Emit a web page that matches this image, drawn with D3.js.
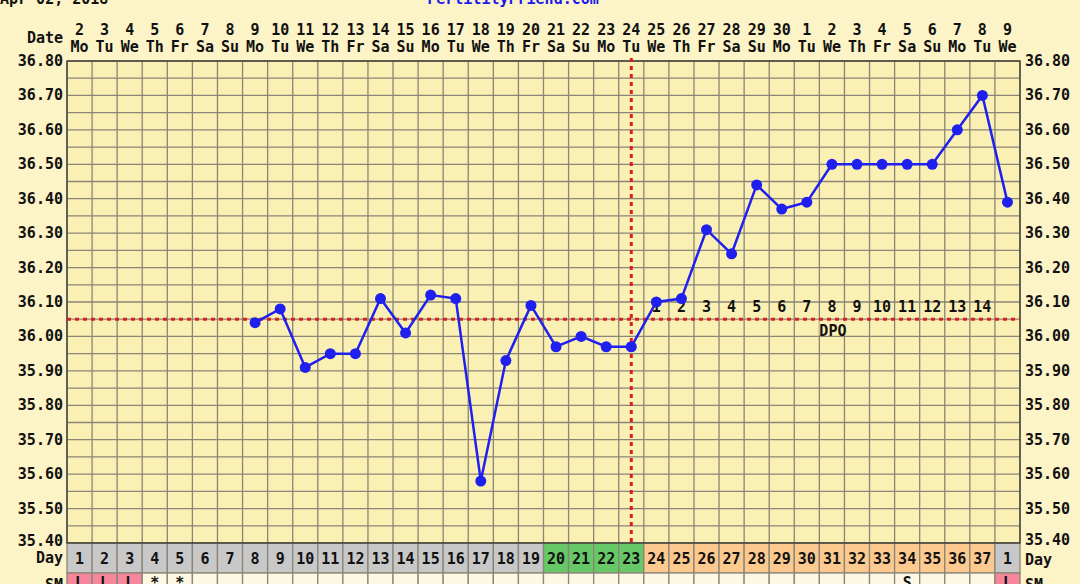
<!DOCTYPE html>
<html><head><meta charset="utf-8">
<script src="https://cdn.jsdelivr.net/npm/d3@7"></script>
<style>
html,body{margin:0;padding:0;background:#fcf3c6;}
svg{display:block;}
text{font-family:"DejaVu Sans Mono",monospace;font-weight:bold;}
</style></head>
<body>
<svg id="c" width="1080" height="584"></svg>
<script>
// ---- data ----
const dateNums = [2,3,4,5,6,7,8,9,10,11,12,13,14,15,16,17,18,19,20,21,22,23,24,25,26,27,28,29,30,1,2,3,4,5,6,7,8,9];
const weekdays = ["Mo","Tu","We","Th","Fr","Sa","Su","Mo","Tu","We","Th","Fr","Sa","Su","Mo","Tu","We","Th","Fr","Sa","Su","Mo","Tu","We","Th","Fr","Sa","Su","Mo","Tu","We","Th","Fr","Sa","Su","Mo","Tu","We"];
const cycleDays = [1,2,3,4,5,6,7,8,9,10,11,12,13,14,15,16,17,18,19,20,21,22,23,24,25,26,27,28,29,30,31,32,33,34,35,36,37,1];
const temps = [null,null,null,null,null,null,null,36.04,36.08,35.91,35.95,35.95,36.11,36.01,36.12,36.11,35.58,35.93,36.09,35.97,36.00,35.97,35.97,36.10,36.11,36.31,36.24,36.44,36.37,36.39,36.50,36.50,36.50,36.50,36.50,36.60,36.70,36.39];
const phases = ["menses","menses","menses","pre","pre","pre","pre","pre","pre","pre","pre","pre","pre","pre","pre","pre","pre","pre","pre","fertile","fertile","fertile","fertile","luteal","luteal","luteal","luteal","luteal","luteal","luteal","luteal","luteal","luteal","luteal","luteal","luteal","luteal","menses"];
const smMarks = ["L","L","L","*","*","","","","","","","","","","","","","","","","","","","","","","","","","","","","","S","","","","L"];
const smFlow = [1,1,1,0,0,0,0,0,0,0,0,0,0,0,0,0,0,0,0,0,0,0,0,0,0,0,0,0,0,0,0,0,0,0,0,0,0,1];
const dpoLabels = [1,2,3,4,5,6,7,8,9,10,11,12,13,14];
const yTicks = [35.4,35.5,35.6,35.7,35.8,35.9,36.0,36.1,36.2,36.3,36.4,36.5,36.6,36.7,36.8];
const coverline = 36.05;
const ovulationIndex = 22;
const dpoStartIndex = 23;
const titleLeft = "Apr 02, 2018";
const titleCenter = "FertilityFriend.com";

// ---- layout ----
const L = 67, R = 1020, T = 61, B = 543;
const dayRowH = 30, smRowH = 30;
const svg = d3.select("#c");
const idx = d3.range(dateNums.length);
const x = d3.scaleBand().domain(idx).range([L, R]).padding(0);
const y = d3.scaleLinear().domain([35.4, 36.8]).range([B, T]);
const cx = i => x(i) + x.bandwidth() / 2;

svg.append("rect").attr("width",1080).attr("height",584).attr("fill","#fcf3c6");

// title fragments (cut off at top, as in the reference)
svg.append("text").attr("x",0).attr("y",4).attr("font-size",15).attr("fill","#111").text(titleLeft);
svg.append("text").attr("x",513).attr("y",4).attr("text-anchor","middle").attr("font-size",15).attr("fill","#1a1aee").text(titleCenter);

// plot background
svg.append("rect").attr("x",L).attr("y",T).attr("width",R-L).attr("height",B-T).attr("fill","#fbf0b4");

// grid
const gridVals = d3.range(0, 29).map(k => 35.4 + k*0.05);
svg.append("g").selectAll("line").data(gridVals).join("line")
  .attr("x1",L).attr("x2",R).attr("y1",d=>y(d)).attr("y2",d=>y(d))
  .attr("stroke","#8a8576").attr("stroke-width",1.3);
svg.append("g").selectAll("line").data(d3.range(dateNums.length+1)).join("line")
  .attr("x1",i=>L + i*x.bandwidth()).attr("x2",i=>L + i*x.bandwidth())
  .attr("y1",T).attr("y2",B)
  .attr("stroke","#8a8576").attr("stroke-width",1.3);

// header
svg.append("text").attr("x",63).attr("y",43).attr("text-anchor","end").attr("font-size",15).attr("fill","#111").text("Date");
svg.append("g").selectAll("text").data(idx).join("text")
  .attr("x",cx).attr("y",35).attr("text-anchor","middle").attr("font-size",15).attr("fill","#111")
  .text(i=>dateNums[i]);
svg.append("g").selectAll("text").data(idx).join("text")
  .attr("x",cx).attr("y",52).attr("text-anchor","middle").attr("font-size",15).attr("fill","#111")
  .text(i=>weekdays[i]);

// y axis labels
const fmt = d3.format(".2f");
svg.append("g").selectAll("text").data(yTicks.filter(v=>v>35.45)).join("text")
  .attr("x",63).attr("y",d=>y(d)+5).attr("text-anchor","end").attr("font-size",15).attr("fill","#111").text(fmt);
svg.append("g").selectAll("text").data(yTicks.filter(v=>v>35.45)).join("text")
  .attr("x",1025).attr("y",d=>y(d)+5).attr("text-anchor","start").attr("font-size",15).attr("fill","#111").text(fmt);
svg.append("text").attr("x",63).attr("y",546).attr("text-anchor","end").attr("font-size",15).attr("fill","#111").text(fmt(35.4));
svg.append("text").attr("x",1025).attr("y",545).attr("text-anchor","start").attr("font-size",15).attr("fill","#111").text(fmt(35.4));

// day row
const phaseFill = {menses:"#c8c8c8", pre:"#c8c8c8", fertile:"#66c866", luteal:"#fcc98f"};
svg.append("g").selectAll("rect").data(idx).join("rect")
  .attr("x",i=>x(i)).attr("y",B).attr("width",x.bandwidth()).attr("height",dayRowH)
  .attr("fill",i=>phaseFill[phases[i]]).attr("stroke","#8a8576").attr("stroke-width",1.3);
svg.append("g").selectAll("text").data(idx).join("text")
  .attr("x",cx).attr("y",564).attr("text-anchor","middle").attr("font-size",15).attr("fill","#111")
  .text(i=>cycleDays[i]);
svg.append("text").attr("x",63).attr("y",563).attr("text-anchor","end").attr("font-size",15).attr("fill","#111").text("Day");
svg.append("text").attr("x",1025).attr("y",565).attr("text-anchor","start").attr("font-size",15).attr("fill","#111").text("Day");

// SM row
svg.append("g").selectAll("rect").data(idx).join("rect")
  .attr("x",i=>x(i)).attr("y",B+dayRowH).attr("width",x.bandwidth()).attr("height",smRowH)
  .attr("fill",i=>smFlow[i] ? "#f5869c" : "#fdf8e4").attr("stroke","#8a8576").attr("stroke-width",1.3);
svg.append("g").selectAll("text").data(idx).join("text")
  .attr("x",cx).attr("y",B+dayRowH+15).attr("text-anchor","middle").attr("font-size",15).attr("fill","#111")
  .text(i=>smMarks[i]);
svg.append("text").attr("x",63).attr("y",590).attr("text-anchor","end").attr("font-size",15).attr("fill","#111").text("SM");
svg.append("text").attr("x",1025).attr("y",590).attr("text-anchor","start").attr("font-size",15).attr("fill","#111").text("SM");

// plot border
svg.append("rect").attr("x",L).attr("y",T).attr("width",R-L).attr("height",B-T)
  .attr("fill","none").attr("stroke","#3a3a30").attr("stroke-width",1.3);

// coverline
svg.append("line").attr("x1",L).attr("x2",R).attr("y1",y(coverline)).attr("y2",y(coverline))
  .attr("stroke","#d82020").attr("stroke-width",3).attr("stroke-dasharray","4,4");

// DPO labels
svg.append("g").selectAll("text").data(dpoLabels).join("text")
  .attr("x",(d,k)=>cx(dpoStartIndex+k)).attr("y",y(coverline)-7).attr("text-anchor","middle")
  .attr("font-size",15).attr("fill","#111").text(d=>d);
const dpoX = x(30);
svg.append("rect").attr("x",dpoX).attr("y",y(coverline)+2).attr("width",x.bandwidth()+1).attr("height",14).attr("fill","#fbf0b4");
svg.append("text").attr("x",dpoX+x.bandwidth()/2+1).attr("y",y(coverline)+17).attr("text-anchor","middle").attr("font-size",15).attr("fill","#111").text("DPO");

// ovulation line
svg.append("line").attr("x1",cx(ovulationIndex)).attr("x2",cx(ovulationIndex)).attr("y1",T-3).attr("y2",B)
  .attr("stroke","#d82020").attr("stroke-width",3).attr("stroke-dasharray","4,4");

// temperature line
const pts = idx.filter(i=>temps[i]!=null);
const line = d3.line().x(i=>cx(i)).y(i=>y(temps[i]));
svg.append("path").datum(pts).attr("d",line).attr("fill","none").attr("stroke","#1f1ff0").attr("stroke-width",2.5);
svg.append("g").selectAll("circle").data(pts).join("circle")
  .attr("cx",cx).attr("cy",i=>y(temps[i])).attr("r",5.5).attr("fill","#1f1ff0");
</script>
</body></html>
